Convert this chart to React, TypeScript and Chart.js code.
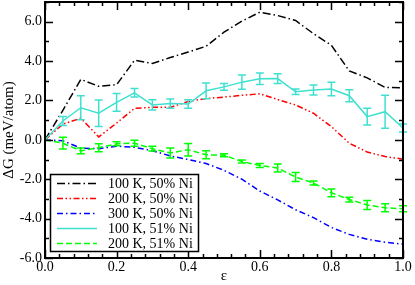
import React, { useEffect, useRef } from "react";
import { Chart, registerables } from "chart.js";

Chart.register(...registerables);

const epsilon = [0, 0.05, 0.1, 0.15, 0.2, 0.25, 0.3, 0.35, 0.4, 0.45, 0.5, 0.55, 0.6, 0.65, 0.7, 0.75, 0.8, 0.85, 0.9, 0.95, 1.0];

const dG_100K_50 = [0, 1.5, 3.07, 2.72, 2.8, 4.04, 3.88, 4.18, 4.46, 4.75, 5.47, 6.03, 6.48, 6.31, 6.06, 5.39, 4.8, 3.5, 3.15, 2.66, 2.64];
const dG_200K_50 = [0, 0.8, 1.1, 0.15, 0.85, 1.6, 1.65, 1.65, 1.95, 2.1, 2.17, 2.26, 2.34, 2.05, 1.77, 1.35, 0.67, -0.17, -0.62, -0.85, -0.98];
const dG_300K_50 = [0, -0.05, -0.42, -0.45, -0.32, -0.38, -0.55, -0.82, -1.0, -1.2, -1.55, -2.0, -2.6, -3.05, -3.55, -3.95, -4.45, -4.8, -5.05, -5.2, -5.3];
const dG_100K_51 = [0, 0.96, 1.63, 1.35, 1.9, 2.39, 1.77, 1.84, 1.82, 2.49, 2.69, 2.93, 3.1, 3.11, 2.44, 2.53, 2.58, 2.24, 1.18, 1.43, 0.6];
const err_100K_51 = [0, 0.23, 0.61, 0.67, 0.45, 0.22, 0.26, 0.24, 0.22, 0.4, 0.17, 0.36, 0.29, 0.25, 0.14, 0.25, 0.34, 0.31, 0.43, 0.84, 0.2];
const dG_200K_51 = [0, -0.17, -0.56, -0.4, -0.2, -0.17, -0.45, -0.67, -0.5, -0.76, -0.78, -1.1, -1.3, -1.43, -1.89, -2.19, -2.69, -3.03, -3.31, -3.45, -3.5];
const err_200K_51 = [0, 0.3, 0.15, 0.2, 0.1, 0.15, 0.12, 0.25, 0.32, 0.2, 0.08, 0.08, 0.1, 0.2, 0.23, 0.1, 0.2, 0.12, 0.23, 0.2, 0.15];

const seriesLabels = ["100 K, 50% Ni", "200 K, 50% Ni", "300 K, 50% Ni", "100 K, 51% Ni", "200 K, 51% Ni"];

const xMajorTicks = [0, 0.2, 0.4, 0.6, 0.8, 1.0];
const yMajorTicks = [-6, -4, -2, 0, 2, 4, 6];
const xMinorStep = 0.04;
const yMinorStep = 1;
const xMin = 0, xMax = 1, yMin = -6, yMax = 7;

const FONT = "'Liberation Serif', 'Times New Roman', serif";

const toPoints = (ys: number[]) => epsilon.map((x, i) => ({ x, y: ys[i] }));

const errorBarPlugin = {
  id: "errorBars",
  afterDatasetsDraw(chart: any) {
    const ctx = chart.ctx;
    const xs = chart.scales.x;
    const ys = chart.scales.y;
    chart.data.datasets.forEach((ds: any) => {
      if (!ds.errors) return;
      ctx.save();
      ctx.strokeStyle = ds.borderColor;
      ctx.lineWidth = 1.5;
      ctx.setLineDash([]);
      ds.data.forEach((p: any, i: number) => {
        const e = ds.errors[i];
        if (!e) return;
        const px = xs.getPixelForValue(p.x);
        const top = ys.getPixelForValue(p.y + e);
        const bot = ys.getPixelForValue(p.y - e);
        ctx.beginPath();
        ctx.moveTo(px, top);
        ctx.lineTo(px, bot);
        ctx.moveTo(px - 4, top);
        ctx.lineTo(px + 4, top);
        ctx.moveTo(px - 4, bot);
        ctx.lineTo(px + 4, bot);
        ctx.stroke();
      });
      ctx.restore();
    });
  },
};

const framePlugin = {
  id: "frame",
  afterDraw(chart: any) {
    const ctx = chart.ctx;
    const { left, right, top, bottom } = chart.chartArea;
    const xs = chart.scales.x;
    const ys = chart.scales.y;
    ctx.save();
    ctx.strokeStyle = "#000";
    ctx.setLineDash([]);
    ctx.lineWidth = 1.5;
    ctx.beginPath();
    const nx = Math.round((xMax - xMin) / xMinorStep);
    for (let i = 0; i <= nx; i++) {
      const v = xMin + i * xMinorStep;
      const isMajor = xMajorTicks.some((m) => Math.abs(m - v) < 1e-6);
      const len = isMajor ? 8 : 4;
      const px = Math.round(xs.getPixelForValue(v)) + 0.5;
      ctx.moveTo(px, bottom);
      ctx.lineTo(px, bottom - len);
      ctx.moveTo(px, top);
      ctx.lineTo(px, top + len);
    }
    const ny = Math.round((yMax - yMin) / yMinorStep);
    for (let i = 0; i <= ny; i++) {
      const v = yMin + i * yMinorStep;
      const isMajor = yMajorTicks.some((m) => Math.abs(m - v) < 1e-6);
      const len = isMajor ? 8 : 4;
      const py = Math.round(ys.getPixelForValue(v)) + 0.5;
      ctx.moveTo(left, py);
      ctx.lineTo(left + len, py);
      ctx.moveTo(right, py);
      ctx.lineTo(right - len, py);
    }
    ctx.stroke();
    ctx.lineWidth = 2;
    ctx.strokeRect(left, top, right - left, bottom - top);

    // legend
    const bx = 50, by = 174, bw = 148, bh = 77;
    ctx.fillStyle = "#fff";
    ctx.fillRect(bx, by, bw, bh);
    ctx.lineWidth = 1.5;
    ctx.strokeRect(bx + 0.5, by + 0.5, bw, bh);
    ctx.font = `14px ${FONT}`;
    ctx.textBaseline = "middle";
    ctx.textAlign = "left";
    chart.data.datasets.forEach((ds: any, i: number) => {
      const cy = by + 9.5 + i * 15;
      ctx.strokeStyle = ds.borderColor;
      ctx.lineWidth = ds.borderWidth;
      ctx.setLineDash(ds.borderDash || []);
      ctx.beginPath();
      ctx.moveTo(57, cy);
      ctx.lineTo(97, cy);
      ctx.stroke();
      ctx.setLineDash([]);
      ctx.fillStyle = "#000";
      ctx.fillText(ds.label, 108, cy + 1);
    });
    ctx.restore();
  },
};

export default function App() {
  const ref = useRef<HTMLCanvasElement>(null);
  useEffect(() => {
    if (!ref.current) return;
    const tickFont = { family: FONT, size: 14 };
    const titleFont = { family: FONT, size: 15 };
    const chart = new Chart(ref.current, {
      type: "line",
      data: {
        datasets: [
          { label: seriesLabels[0], data: toPoints(dG_100K_50), borderColor: "#000000", borderWidth: 1.5, borderDash: [8, 3, 1.5, 3], order: 5 },
          { label: seriesLabels[1], data: toPoints(dG_200K_50), borderColor: "#ff0000", borderWidth: 1.5, borderDash: [6, 2.5, 1.5, 2.5, 1.5, 2.5], order: 4 },
          { label: seriesLabels[2], data: toPoints(dG_300K_50), borderColor: "#0000ff", borderWidth: 1.5, borderDash: [6, 3, 1.5, 3], order: 3 },
          { label: seriesLabels[3], data: toPoints(dG_100K_51), borderColor: "#40e0d0", borderWidth: 1.5, borderDash: [], order: 2, errors: err_100K_51 } as any,
          { label: seriesLabels[4], data: toPoints(dG_200K_51), borderColor: "#00ff00", borderWidth: 1.5, borderDash: [6, 3], order: 1, errors: err_200K_51 } as any,
        ],
      },
      options: {
        animation: false,
        responsive: false,
        devicePixelRatio: 1,
        layout: { padding: { top: 2, right: 12, left: 0, bottom: 0 } },
        elements: { point: { radius: 0 }, line: { tension: 0, fill: false } },
        plugins: { legend: { display: false }, tooltip: { enabled: false } },
        scales: {
          x: {
            type: "linear",
            min: xMin,
            max: xMax,
            grid: { display: false, drawTicks: false },
            border: { display: false },
            ticks: { font: tickFont, color: "#000", padding: 1, autoSkip: false, maxRotation: 0, callback: (v: any) => Number(v).toFixed(1) },
            afterBuildTicks: (s: any) => { s.ticks = xMajorTicks.map((v) => ({ value: v })); },
            afterFit: (s: any) => { s.height = 27; s.paddingLeft = 0; s.paddingRight = 0; },
            title: { display: true, text: "ε", font: titleFont, color: "#000", padding: { top: 0, bottom: 0 } },
          },
          y: {
            type: "linear",
            min: yMin,
            max: yMax,
            grid: { display: false, drawTicks: false },
            border: { display: false },
            ticks: { font: tickFont, color: "#000", padding: 3, autoSkip: false, callback: (v: any) => Number(v).toFixed(1) },
            afterBuildTicks: (s: any) => { s.ticks = yMajorTicks.map((v) => ({ value: v })); },
            afterFit: (s: any) => { s.width = 45; s.paddingTop = 0; s.paddingBottom = 0; },
            title: { display: true, text: "ΔG (meV/atom)", font: titleFont, color: "#000", padding: { top: 0, bottom: 0 } },
          },
        },
      },
      plugins: [errorBarPlugin, framePlugin],
    });
    return () => chart.destroy();
  }, []);
  return (
    <div style={{ position: "fixed", left: 0, top: 0, width: 415, height: 285, background: "#fff" }}>
      <canvas ref={ref} width={415} height={285} style={{ display: "block" }} />
    </div>
  );
}
